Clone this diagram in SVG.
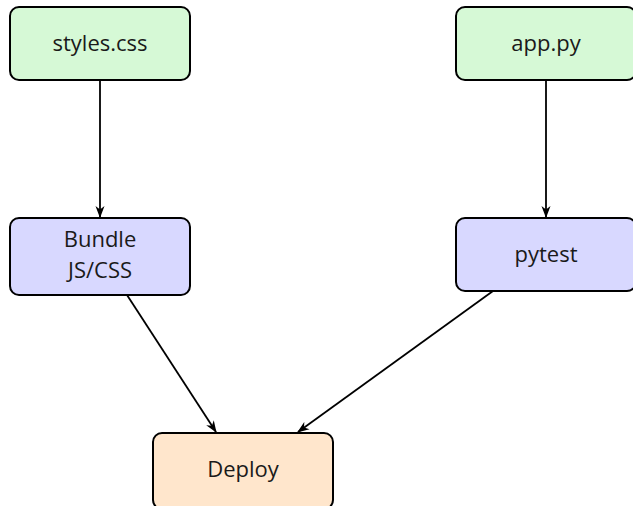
<svg xmlns="http://www.w3.org/2000/svg" width="633" height="506" viewBox="0 0 633 506">
  <style>
    .box { stroke: #000; stroke-width: 2; }
    .src { fill: #d6f9d6; }
    .step { fill: #d8d8ff; }
    .out { fill: #ffe6cc; }
    .lbl { font-family: "Open Sans", "DejaVu Sans", sans-serif; font-size: 22px; fill: #1a1a1a; text-anchor: middle; }
    .edge { stroke: #000; stroke-width: 1.8; fill: none; marker-end: url(#arrow); }
  </style>
  <defs>
    <marker id="arrow" viewBox="0 0 12 10" refX="11" refY="5" markerWidth="12" markerHeight="10" markerUnits="userSpaceOnUse" orient="auto">
      <path d="M0,0.5 L12,5 L0,9.5 L3.5,5 Z" fill="#000"/>
    </marker>
  </defs>

  <g id="connectors">
    <line class="edge" x1="100" y1="80" x2="100" y2="217"/>
    <line class="edge" x1="546" y1="80" x2="546" y2="217"/>
    <line class="edge" x1="127" y1="295" x2="216" y2="432"/>
    <line class="edge" x1="493" y1="291" x2="298" y2="432"/>
  </g>

  <g id="styles-css">
    <rect class="box src" x="10" y="7" width="180" height="73" rx="9"/>
    <text class="lbl" x="100" y="51">styles.css</text>
  </g>

  <g id="app-py">
    <rect class="box src" x="456" y="7" width="180" height="73" rx="9"/>
    <text class="lbl" x="546" y="51">app.py</text>
  </g>

  <g id="bundle">
    <rect class="box step" x="10" y="218" width="180" height="77" rx="9"/>
    <text class="lbl" x="100" y="247">Bundle</text>
    <text class="lbl" x="100" y="278">JS/CSS</text>
  </g>

  <g id="pytest">
    <rect class="box step" x="456" y="218" width="180" height="73" rx="9"/>
    <text class="lbl" x="546" y="262">pytest</text>
  </g>

  <g id="deploy">
    <rect class="box out" x="153" y="433" width="180" height="76" rx="9"/>
    <text class="lbl" x="243" y="477">Deploy</text>
  </g>
</svg>
